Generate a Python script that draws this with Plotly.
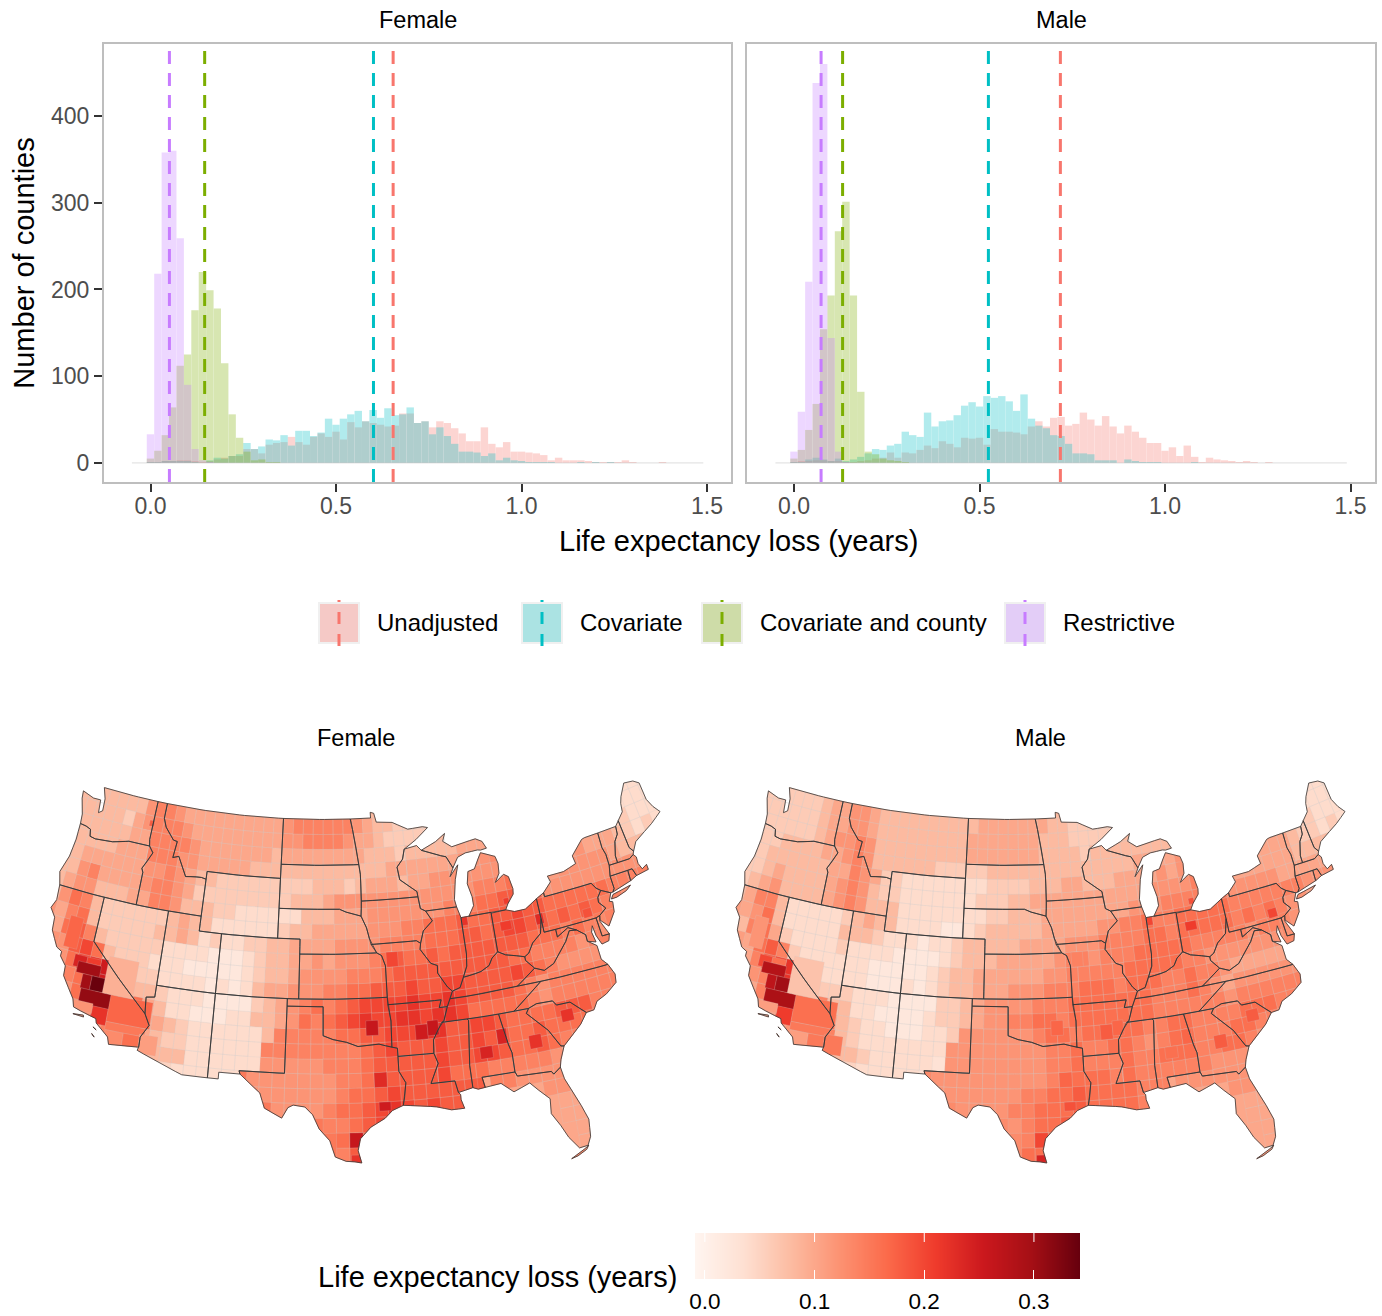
import math
import plotly.graph_objects as go

# ---------- histogram data (counts per 0.02-wide bin, first bin centred on 0) ----------
BIN_WIDTH = 0.02
UNADJ_F = [1,1,2,2,3,3,2,1,2,4,6,8,8,16,16,11,21,23,24,30,24,21,30,34,30,36,27,47,41,48,46,44,42,43,57,57,46,48,41,48,46,40,34,25,25,41,22,18,24,13,13,12,11,9,3,6,3,3,3,2,1,1,1,1,3,1,0,0,0,1]
COV_F = [1,1,2,2,2,2,1,0,3,6,5,8,10,23,16,19,27,26,32,20,37,37,31,35,51,44,51,56,60,48,61,52,63,55,56,64,46,48,33,41,31,22,13,13,12,8,11,3,6,3,2,1,1,1,1,0,0,0,1,0,1,0,1]
CC_F = [5,14,32,64,112,125,176,220,199,178,115,56,29,13,3,4,1,1]
RESTR_F = [33,218,358,360,259,90,16,3,1]
UNADJ_M = [1,2,2,3,3,2,2,1,1,2,3,5,6,12,6,12,11,15,20,17,25,22,18,29,28,29,21,39,36,36,35,33,42,48,42,52,53,43,45,58,50,43,54,42,34,43,36,29,23,23,14,18,8,20,7,1,6,4,3,2,1,2,1,0,1]
COV_M = [1,1,4,6,4,2,5,2,4,7,11,16,15,20,22,36,32,30,58,42,48,49,55,66,70,65,77,75,77,71,60,79,51,43,40,32,31,22,11,11,10,3,3,3,0,4,2,1,1,1,0,0,0,0,1]
CC_M = [5,15,38,68,154,193,267,301,193,82,13,10,5,3,2,1]
RESTR_M = [13,59,209,438,460,144,13,1]
SERIES = ["Unadjusted", "Covariate", "Covariate and county", "Restrictive"]
COLORS = ["#F8766D", "#00BFC4", "#7CAE00", "#C77CFF"]
KEY_FILLS = ["#F5C9C6", "#ABE3E3", "#CEDCA8", "#E3CDF7"]
MEANS_F = [0.654, 0.601, 0.146, 0.051]
MEANS_M = [0.718, 0.524, 0.131, 0.073]

# ---------- map data ----------
REDS = ["#FFF5F0", "#FEE0D2", "#FCBBA1", "#FC9272", "#FB6A4A", "#EF3B2C", "#CB181D", "#A50F15", "#67000D"]
CMIN, CMAX = -0.009, 0.342
LEVELS = {"0":.02,"1":.04,"2":.06,"3":.08,"4":.10,"5":.12,"6":.14,"7":.16,"8":.18,"9":.20,"A":.22,"B":.25}

# 1-degree cells: key is the lower latitude; 12 groups of 5 columns from 125W eastwards
GRID_F = {
48:"33333 33566 54444 44444 45666 66654 33222 2.... ..... ..... ..... .....",
47:"33333 24566 65444 44444 45566 66544 32222 23333 ..... ..... ..... 1111.",
46:"33333 34466 66544 44444 34444 44443 33233 33344 4.... ..... ..... 1111.",
45:"33333 44466 65544 44433 33333 33333 34444 44455 5.... ..... 43322 1111.",
44:"33444 44455 65433 22222 22223 33234 44344 55555 55566 ....5 44432 12...",
43:"33564 44456 65422 22222 22333 45555 55555 55556 6677. ..555 55433 32...",
42:"34553 33446 65333 22111 11133 34445 55555 56667 78888 55555 55555 5....",
41:"35763 22222 23433 11111 12334 44445 55667 77877 88988 77777 76666 .....",
40:".4673 22222 33431 21122 33444 45555 66667 77887 89988 78787 665.. .....",
39:".4786 32222 21111 00012 33445 45556 78778 78888 88877 7676. 66... .....",
38:"..589 73222 11100 00012 33455 55666 78888 88888 87766 6656. 6.... .....",
37:"..579 AB532 21111 01013 44555 66778 88988 99888 89876 55556 6.... .....",
36:"...67 9BB33 32111 00002 34567 67899 99A99 A9888 87656 66666 6.... .....",
35:"...57 B6667 43110 00113 34576 789A9 9AA9A A9777 77656 66666 ..... .....",
34:"...56 59777 44321 11111 36666 67788 999AA 88998 77778 8866. ..... .....",
33:"..... ..676 43221 11111 66666 66678 98889 88988 77877 77... ..... .....",
32:"..... ...66 33331 1111. 55555 66678 88889 88998 77876 6.... ..... .....",
31:"..... ..... ...11 111.5 55555 56677 88889 77766 66655 ..... ..... .....",
30:"..... ..... ..... ....5 55555 56778 98888 88.66 55554 ..... ..... .....",
29:"..... ..... ..... ..... .5555 67789 A9898 8.... ..554 ..... ..... .....",
28:"..... ..... ..... ..... ..... 66789 A.... ..... ...44 4.... ..... .....",
27:"..... ..... ..... ..... ..... .7779 ..... ..... ...44 4.... ..... .....",
26:"..... ..... ..... ..... ..... .689. ..... ..... ....4 4.... ..... .....",
25:"..... ..... ..... ..... ..... ...9. ..... ..... ....4 4.... ..... .....",
}
GRID_M = {
48:"22222 23445 54333 33333 33444 44443 32222 2.... ..... ..... ..... .....",
47:"22222 23445 54333 33333 34444 44433 32222 23333 ..... ..... ..... 1111.",
46:"22222 23455 65333 33333 34444 44433 33233 33333 3.... ..... ..... 1111.",
45:"22233 33445 65333 33322 22233 33333 33333 33444 4.... ..... 33222 1111.",
44:"22333 33344 65422 11111 11122 22333 44333 44445 45555 ....4 44322 12...",
43:"22343 33345 65322 11111 11222 33444 44444 44455 5566. ..444 44333 32...",
42:"23453 33345 65333 11111 11122 33344 44444 45556 66667 55555 44444 4....",
41:"34663 11111 23433 11110 01233 33344 44455 66766 77777 66666 66555 .....",
40:".4573 11111 33321 11011 23333 34444 55566 66776 77777 67676 554.. .....",
39:".3674 21111 21111 00001 23334 44445 66566 67777 76666 6566. 55... .....",
38:"..478 62111 11100 00012 33444 44455 66666 77777 66555 5555. 5.... .....",
37:"..468 9A421 11100 01012 33444 55566 67776 77766 76654 44445 5.... .....",
36:"...56 8AA22 22111 00002 23455 55666 77777 77666 76545 55555 5.... .....",
35:"...46 A5556 33110 00012 23455 66776 77777 77666 66656 66666 ..... .....",
34:"...45 48666 43211 00011 25555 55677 67777 76677 66667 7766. ..... .....",
33:"..... ..565 63211 11111 55555 55566 76677 65677 66677 66... ..... .....",
32:"..... ...65 63321 1111. 55555 55566 76667 66777 66776 5.... ..... .....",
31:"..... ..... ...11 111.5 55555 55566 77767 66666 65555 ..... ..... .....",
30:"..... ..... ..... ....5 55555 56677 87777 66.55 55554 ..... ..... .....",
29:"..... ..... ..... ..... .5555 66777 87777 6.... ..554 ..... ..... .....",
28:"..... ..... ..... ..... ..... 56778 9.... ..... ...44 4.... ..... .....",
27:"..... ..... ..... ..... ..... .6778 ..... ..... ...44 4.... ..... .....",
26:"..... ..... ..... ..... ..... .779. ..... ..... ....4 4.... ..... .....",
25:"..... ..... ..... ..... ..... ...9. ..... ..... ....4 4.... ..... .....",
}
# local patches: lon0, lon1, lat0, lat1, female, male
PATCHES = [
(-122.5,-121.3,38.2,40.3,.17,.12),(-121.3,-120.2,37.1,37.9,.24,.20),(-120.2,-119.0,37.5,37.9,.21,.16),
(-120.9,-118.9,36.75,37.5,.30,.28),(-120.3,-119.5,35.8,36.75,.30,.27),(-119.5,-118.0,35.8,36.75,.34,.30),
(-120.2,-117.6,34.8,35.8,.31,.29),(-118.95,-117.65,33.7,34.82,.22,.21),(-120.7,-118.95,34.3,34.95,.12,.11),
(-117.65,-114.1,34.0,35.8,.17,.16),(-117.65,-114.4,33.45,34.0,.15,.15),(-117.6,-116.1,32.5,33.45,.13,.11),
(-116.1,-114.4,32.6,33.45,.16,.15),(-118.4,-115.8,35.8,38.3,.09,.07),(-114.8,-113.3,32.3,33.6,.11,.15),
(-98.0,-97.0,27.0,28.0,.26,.20),(-95.7,-94.8,29.4,30.0,.25,.19),(-97.9,-97.2,25.9,26.5,.22,.24),
(-117.4,-116.9,47.3,47.7,.18,.10),(-83.5,-83.0,42.1,42.5,.21,.19),(-87.55,-87.0,41.2,41.75,.22,.20),
(-92.5,-91.5,34.0,35.0,.25,.18),(-91.5,-90.6,34.2,35.2,.26,.17),(-96.5,-95.5,34.5,35.5,.26,.17),
(-87.5,-86.5,32.2,33.0,.24,.16),(-86.0,-85.2,33.0,34.0,.24,.17),(-81.0,-80.3,40.3,41.0,.23,.16),
(-83.5,-82.5,32.3,33.2,.22,.18),(-80.6,-79.6,33.6,34.4,.22,.18),(-96.0,-95.0,31.0,32.0,.23,.17),
(-84.2,-83.2,40.4,41.0,.21,.21),(-76.8,-76.0,39.9,40.5,.19,.20),(-94.5,-93.5,39.0,40.0,.20,.14),
]
STATES = {
"WA":[(-124.7,48.38),(-123.5,48.13),(-122.75,48.15),(-122.6,47.3),(-122.25,47.5),(-122.35,48.3),(-122.75,49),(-117.03,49),(-117.04,46.42),(-116.92,46),(-118.98,46),(-119.3,45.93),(-120.5,45.7),(-121.2,45.65),(-122.2,45.58),(-122.75,45.65),(-122.9,46.1),(-123.4,46.22),(-124,46.27),(-124.1,46.9),(-124.6,47.9)],
"OR":[(-124,46.27),(-123.4,46.22),(-122.9,46.1),(-122.75,45.65),(-122.2,45.58),(-121.2,45.65),(-120.5,45.7),(-119.3,45.93),(-118.98,46),(-116.92,46),(-116.47,45.6),(-116.85,44.95),(-117.2,44.45),(-117.03,44.2),(-117.03,42),(-124.21,42),(-124.55,42.84),(-124.1,44),(-123.95,45.2)],
"CA":[(-124.21,42),(-120,42),(-120,39),(-114.63,35),(-114.15,34.27),(-114.72,33.4),(-114.72,32.72),(-117.12,32.53),(-117.3,33),(-118.4,33.75),(-118.5,34.03),(-119.2,34.15),(-120.47,34.45),(-120.65,34.95),(-121.85,36.3),(-121.9,36.95),(-122.5,37.5),(-122.5,37.8),(-123,38),(-123.75,39),(-123.85,39.85),(-124.4,40.4),(-124.1,41)],
"NV":[(-120,42),(-114.04,42),(-114.04,36.2),(-114.75,36.1),(-114.63,35),(-120,39)],
"ID":[(-117.03,49),(-116.05,49),(-116.05,48),(-115.7,47.45),(-114.75,46.7),(-114.35,46.65),(-114.5,45.55),(-113.95,45.7),(-113.45,45.05),(-113,44.45),(-112,44.55),(-111.5,44.55),(-111.05,44.48),(-111.05,42),(-117.03,42),(-117.03,44.2),(-117.2,44.45),(-116.85,44.95),(-116.47,45.6),(-116.92,46),(-117.04,46.42)],
"MT":[(-116.05,49),(-104.05,49),(-104.05,45),(-111.05,45),(-111.05,44.48),(-111.5,44.55),(-112,44.55),(-113,44.45),(-113.45,45.05),(-113.95,45.7),(-114.5,45.55),(-114.35,46.65),(-114.75,46.7),(-115.7,47.45),(-116.05,48)],
"WY":[(-111.05,45),(-104.05,45),(-104.05,41),(-111.05,41)],
"UT":[(-114.04,42),(-111.05,42),(-111.05,41),(-109.05,41),(-109.05,37),(-114.04,37)],
"CO":[(-109.05,41),(-102.05,41),(-102.05,37),(-109.05,37)],
"AZ":[(-114.04,37),(-109.05,37),(-109.05,31.33),(-111.07,31.33),(-114.8,32.5),(-114.72,32.72),(-114.72,33.4),(-114.15,34.27),(-114.63,35),(-114.75,36.1),(-114.04,36.2)],
"NM":[(-109.05,37),(-103,37),(-103.04,32),(-106.62,32),(-106.53,31.78),(-108.2,31.78),(-108.2,31.33),(-109.05,31.33)],
"ND":[(-104.05,49),(-97.23,49),(-96.85,47.6),(-96.56,45.94),(-104.05,45.94)],
"SD":[(-104.05,45.94),(-96.56,45.94),(-96.45,45.3),(-96.45,43.5),(-96.55,42.5),(-97.9,42.8),(-98.5,43),(-104.05,43)],
"NE":[(-104.05,43),(-98.5,43),(-97.9,42.8),(-96.55,42.5),(-96.1,41.7),(-95.9,41),(-95.31,40),(-102.05,40),(-102.05,41),(-104.05,41)],
"KS":[(-102.05,40),(-95.31,40),(-94.9,39.8),(-94.61,39.1),(-94.62,37),(-102.05,37)],
"OK":[(-103,37),(-94.62,37),(-94.43,35.4),(-94.48,33.64),(-95.5,33.9),(-96.6,33.85),(-97.2,33.8),(-98.1,34.1),(-99.2,34.3),(-100,34.56),(-100,36.5),(-103,36.5)],
"TX":[(-103,36.5),(-100,36.5),(-100,34.56),(-99.2,34.3),(-98.1,34.1),(-97.2,33.8),(-96.6,33.85),(-95.5,33.9),(-94.48,33.64),(-94.04,33.55),(-94.04,33),(-94.04,32),(-93.55,31.2),(-93.7,30.3),(-93.85,29.7),(-94.7,29.4),(-95.3,28.9),(-96.4,28.35),(-97.2,27.6),(-97.4,26.8),(-97.15,25.96),(-97.65,26.05),(-98.3,26.1),(-99.1,26.4),(-99.5,27.5),(-100.3,28.3),(-100.8,29.25),(-101.4,29.77),(-102.3,29.88),(-102.7,29.7),(-103.15,28.98),(-104.5,29.6),(-104.9,30.6),(-106.53,31.78),(-106.62,32),(-103.04,32)],
"MN":[(-97.23,49),(-95.15,49),(-95.15,49.38),(-94.8,49.3),(-94.6,48.7),(-93,48.6),(-91.5,48.05),(-90,48.1),(-89.5,48),(-90.8,47.3),(-92.05,46.75),(-92.3,46.1),(-92.9,45.6),(-92.75,44.75),(-91.25,43.85),(-91.22,43.5),(-96.45,43.5),(-96.45,45.3),(-96.56,45.94),(-96.85,47.6)],
"IA":[(-96.45,43.5),(-91.22,43.5),(-91.1,42.7),(-90.65,42.5),(-90.15,41.8),(-91.05,41.2),(-91.4,40.4),(-91.75,40.6),(-95.77,40.58),(-95.9,41),(-96.1,41.7),(-96.55,42.5)],
"MO":[(-95.77,40.58),(-91.75,40.6),(-91.4,40.4),(-91.5,40),(-90.7,39),(-90.15,38.8),(-90.2,38.3),(-89.5,37.3),(-89.13,36.98),(-89.4,36.5),(-89.7,36),(-90.37,36),(-90.15,36.5),(-94.62,36.5),(-94.62,39.1),(-94.9,39.8),(-95.31,40)],
"AR":[(-94.62,36.5),(-90.15,36.5),(-90.37,36),(-89.7,36),(-90.1,35.1),(-90.6,34.6),(-91.1,33.9),(-91.17,33),(-94.04,33),(-94.04,33.55),(-94.48,33.64),(-94.43,35.4)],
"LA":[(-94.04,33),(-91.17,33),(-90.9,32.3),(-91.6,31),(-89.73,31),(-89.55,30.2),(-89.4,30.05),(-89.4,29.7),(-89.2,29.1),(-90.2,29.1),(-91.3,29.4),(-92.3,29.55),(-93.85,29.7),(-93.7,30.3),(-93.55,31.2),(-94.04,32)],
"WI":[(-92.05,46.75),(-90.8,46.9),(-90.4,46.55),(-89.1,46.15),(-88.1,45.9),(-87.6,45.1),(-88,44.55),(-87.1,45.25),(-87.55,44.3),(-87.9,43),(-87.8,42.5),(-90.65,42.5),(-91.1,42.7),(-91.22,43.5),(-91.25,43.85),(-92.75,44.75),(-92.9,45.6),(-92.3,46.1)],
"IL":[(-90.65,42.5),(-87.8,42.5),(-87.55,41.75),(-87.53,39.3),(-87.65,38.5),(-88.05,37.8),(-88.45,37.15),(-89.13,36.98),(-89.5,37.3),(-90.2,38.3),(-90.15,38.8),(-90.7,39),(-91.5,40),(-91.4,40.4),(-91.05,41.2),(-90.15,41.8)],
"IN":[(-87.55,41.75),(-87.2,41.76),(-86.82,41.76),(-84.8,41.76),(-84.82,39.1),(-85.4,38.75),(-85.75,38.3),(-86.5,38),(-87.05,37.9),(-88.05,37.8),(-87.65,38.5),(-87.53,39.3)],
"OH":[(-84.8,41.7),(-83.45,41.73),(-82.7,41.5),(-81.7,41.5),(-80.52,42),(-80.52,40.64),(-80.85,39.7),(-81.7,39.2),(-82.2,38.6),(-82.6,38.42),(-83.3,38.6),(-84.2,38.8),(-84.82,39.1)],
"MI":[(-86.82,41.76),(-84.8,41.76),(-83.45,41.73),(-83.15,42.1),(-82.5,42.65),(-82.42,43),(-82.6,43.85),(-83,44.07),(-83.9,43.65),(-83.4,44.2),(-83.3,44.85),(-83.45,45.35),(-84.75,45.78),(-85.1,45.4),(-85.6,44.8),(-86.25,44.7),(-86.5,43.9),(-86.25,43),(-86.25,42.4)],
"MI2":[(-90.4,46.55),(-89.1,46.15),(-88.1,45.9),(-87.6,45.1),(-87,45.75),(-86.2,45.95),(-85,46),(-84.7,45.95),(-84.1,46),(-84.4,46.5),(-85,46.75),(-86.2,46.65),(-87.4,46.5),(-88.2,46.95),(-87.9,47.45),(-88.9,47)],
"KY":[(-89.4,36.5),(-88.05,36.5),(-83.68,36.6),(-81.97,37.54),(-82.6,38.17),(-82.6,38.42),(-83.3,38.6),(-84.2,38.8),(-84.82,39.1),(-85.4,38.75),(-85.75,38.3),(-86.5,38),(-87.05,37.9),(-88.05,37.8),(-88.45,37.15),(-89.13,36.98)],
"TN":[(-90.3,35),(-84.32,35),(-81.68,36.59),(-83.68,36.6),(-88.05,36.5),(-89.4,36.5),(-89.7,36),(-90.1,35.1)],
"MS":[(-90.3,35),(-88.2,35),(-88.1,34.9),(-88.45,31.9),(-88.4,30.4),(-89.55,30.2),(-89.73,31),(-91.6,31),(-90.9,32.3),(-91.17,33),(-91.1,33.9),(-90.6,34.6)],
"AL":[(-88.2,35),(-85.6,35),(-85.18,32.87),(-85,32.3),(-85,31),(-87.6,31),(-87.45,30.3),(-88,30.25),(-88.4,30.4),(-88.45,31.9),(-88.1,34.9)],
"GA":[(-85.6,35),(-83.1,35),(-83.35,34.7),(-81.85,33.3),(-81.1,32.1),(-80.85,32.05),(-81.3,31.2),(-81.45,30.72),(-82.05,30.36),(-82.2,30.57),(-84.86,30.7),(-85,31),(-85,32.3),(-85.18,32.87)],
"FL":[(-87.6,31),(-85,31),(-84.86,30.7),(-82.2,30.57),(-82.05,30.36),(-81.45,30.72),(-81.3,29.9),(-80.6,28.4),(-80.05,26.9),(-80.15,25.75),(-80.45,25.2),(-81.1,25.15),(-81.75,26),(-82.2,26.9),(-82.75,27.8),(-82.65,28.8),(-83.4,29.5),(-84,30.1),(-85.3,29.7),(-86.2,30.4),(-87.45,30.3)],
"SC":[(-83.35,34.7),(-83.1,35),(-82.4,35.2),(-81.05,35.15),(-80.8,34.82),(-79.67,34.8),(-78.55,33.86),(-79.2,33.2),(-79.9,32.7),(-80.85,32.05),(-81.1,32.1),(-81.85,33.3)],
"NC":[(-84.32,35),(-83.1,35),(-82.4,35.2),(-81.05,35.15),(-80.8,34.82),(-79.67,34.8),(-78.55,33.86),(-77.9,33.9),(-77.5,34.4),(-76.6,34.7),(-75.6,35.25),(-75.5,35.8),(-75.87,36.55),(-81.68,36.59)],
"VA":[(-83.68,36.6),(-81.68,36.59),(-75.87,36.55),(-76.3,37),(-76.35,37.95),(-77.05,38.4),(-77.05,38.85),(-77.72,39.32),(-78.35,39.4),(-78.87,38.77),(-79.3,38.4),(-80.3,37.55),(-81.2,37.25),(-81.97,37.54)],
"WV":[(-81.97,37.54),(-81.2,37.25),(-80.3,37.55),(-79.3,38.4),(-78.87,38.77),(-78.35,39.4),(-77.72,39.32),(-78.4,39.62),(-79.48,39.2),(-79.48,39.72),(-80.52,39.72),(-80.52,40.64),(-80.85,39.7),(-81.7,39.2),(-82.2,38.6),(-82.6,38.42),(-82.6,38.17)],
"PA":[(-80.52,42),(-79.76,42.27),(-79.76,42),(-75.35,42),(-75.05,41.6),(-74.7,41.36),(-75.13,40.98),(-75.2,40.65),(-74.72,40.15),(-75.42,39.8),(-75.79,39.72),(-80.52,39.72)],
"MD":[(-79.48,39.72),(-75.79,39.72),(-75.7,38.46),(-75.05,38.45),(-75.25,38.03),(-75.9,37.95),(-76.2,38.6),(-76.3,39.3),(-76.5,38.9),(-76.35,38.2),(-77.05,38.4),(-77.05,38.85),(-77.72,39.32),(-78.4,39.62),(-79.48,39.2)],
"DE":[(-75.79,39.72),(-75.42,39.8),(-75.55,39.45),(-75.05,38.45),(-75.7,38.46)],
"NJ":[(-74.7,41.36),(-73.9,41),(-74.25,40.5),(-73.97,40.4),(-74.1,39.75),(-74.9,38.95),(-75.5,39.5),(-75.42,39.8),(-74.72,40.15),(-75.2,40.65),(-75.13,40.98)],
"NY":[(-79.76,42.27),(-78.9,42.85),(-79.05,43.27),(-77.5,43.27),(-76.2,43.55),(-76.3,44.1),(-75,44.95),(-74.7,45),(-73.34,45.01),(-73.4,44),(-73.25,43.5),(-73.27,42.75),(-73.5,42.05),(-73.49,41.2),(-73.7,41),(-73.9,41),(-74.7,41.36),(-75.05,41.6),(-75.35,42),(-79.76,42)],
"NY2":[(-74,40.6),(-73.75,40.85),(-72.6,40.98),(-72,41.05),(-72.5,40.8),(-73.5,40.6)],
"VT":[(-73.34,45.01),(-71.5,45.01),(-71.6,44.5),(-72.05,44.1),(-72.45,43.2),(-72.46,42.73),(-73.27,42.75),(-73.25,43.5),(-73.4,44)],
"NH":[(-71.5,45.01),(-71.08,45.3),(-70.98,43.4),(-70.7,43.07),(-70.85,42.87),(-71.3,42.7),(-72.46,42.73),(-72.45,43.2),(-72.05,44.1),(-71.6,44.5)],
"ME":[(-71.08,45.3),(-70.4,45.75),(-70.25,46.3),(-69.99,46.7),(-69.22,47.46),(-68.3,47.35),(-67.79,47.07),(-67.78,45.9),(-67.45,45.3),(-67,44.8),(-68.2,44.3),(-69.1,44),(-70.2,43.6),(-70.7,43.07),(-70.98,43.4)],
"MA":[(-73.5,42.05),(-71.8,42.02),(-71.38,42.02),(-71.2,41.5),(-70.65,41.55),(-70,41.6),(-70,41.95),(-70.5,41.78),(-70.7,42.2),(-70.65,42.65),(-70.85,42.87),(-71.3,42.7),(-72.46,42.73),(-73.27,42.75)],
"CT":[(-73.5,42.05),(-71.8,42.02),(-71.85,41.32),(-73.7,41),(-73.49,41.2)],
"RI":[(-71.8,42.02),(-71.38,42.02),(-71.2,41.5),(-71.85,41.32)],
"CA2":[(-120.4,34),(-119.5,33.95),(-119.55,34.07),(-120.3,34.05)],
"CA3":[(-118.6,33.45),(-118.3,33.3),(-118.35,33.38)],
"CA4":[(-118.6,33),(-118.35,32.8),(-118.4,32.85)],
"FL2":[(-81.8,24.55),(-81.3,24.65),(-80.6,24.95),(-80.4,25.2),(-80.65,25.05),(-81.35,24.72)],
}
STATE_F = {"WA":.08,"OR":.09,"CA":.12,"NV":.06,"ID":.11,"MT":.095,"WY":.05,"UT":.05,"CO":.05,"AZ":.05,"NM":.04,"ND":.11,"SD":.07,"NE":.09,"KS":.12,"OK":.17,"TX":.15,"MN":.08,"IA":.11,"MO":.16,"AR":.19,"LA":.17,"WI":.10,"IL":.15,"IN":.16,"OH":.17,"MI":.13,"MI2":.09,"KY":.16,"TN":.16,"MS":.18,"AL":.18,"GA":.16,"FL":.10,"FL2":.13,"SC":.16,"NC":.14,"VA":.12,"WV":.14,"PA":.15,"MD":.14,"DE":.12,"NJ":.13,"NY":.11,"NY2":.16,"VT":.06,"NH":.07,"ME":.04,"MA":.10,"CT":.11,"RI":.10,"CA2":.12,"CA3":.12,"CA4":.12}
STATE_M = {"WA":.07,"OR":.08,"CA":.11,"NV":.05,"ID":.10,"MT":.08,"WY":.04,"UT":.05,"CO":.05,"AZ":.05,"NM":.03,"ND":.09,"SD":.07,"NE":.08,"KS":.10,"OK":.13,"TX":.13,"MN":.08,"IA":.10,"MO":.13,"AR":.14,"LA":.14,"WI":.09,"IL":.14,"IN":.15,"OH":.15,"MI":.12,"MI2":.08,"KY":.13,"TN":.14,"MS":.13,"AL":.14,"GA":.13,"FL":.10,"FL2":.12,"SC":.13,"NC":.12,"VA":.10,"WV":.10,"PA":.14,"MD":.13,"DE":.12,"NJ":.13,"NY":.10,"NY2":.16,"VT":.05,"NH":.06,"ME":.04,"MA":.09,"CT":.10,"RI":.09,"CA2":.11,"CA3":.11,"CA4":.11}

# ---------- helpers ----------
LAT0, LON0 = math.radians(45), math.radians(-100)

def project(lon, lat):
    # Lambert azimuthal equal-area projection
    p, l = math.radians(lat), math.radians(lon) - LON0
    k = math.sqrt(2 / (1 + math.sin(LAT0) * math.sin(p) + math.cos(LAT0) * math.cos(p) * math.cos(l)))
    return 6.371 * k * math.cos(p) * math.sin(l), 6.371 * k * (math.cos(LAT0) * math.sin(p) - math.sin(LAT0) * math.cos(p) * math.cos(l))

def densify(poly, step=0.5):
    out = []
    for i, (a, b) in enumerate(poly):
        c, d = poly[(i + 1) % len(poly)]
        n = max(1, int(max(abs(c - a), abs(d - b)) / step))
        out += [(a + (c - a) * j / n, b + (d - b) * j / n) for j in range(n)]
    return out

def clip(poly, x0, x1, y0, y1):
    tests = [(lambda p: p[0] >= x0, lambda p, q: (x0, p[1] + (q[1] - p[1]) * (x0 - p[0]) / (q[0] - p[0]))),
             (lambda p: p[0] <= x1, lambda p, q: (x1, p[1] + (q[1] - p[1]) * (x1 - p[0]) / (q[0] - p[0]))),
             (lambda p: p[1] >= y0, lambda p, q: (p[0] + (q[0] - p[0]) * (y0 - p[1]) / (q[1] - p[1]), y0)),
             (lambda p: p[1] <= y1, lambda p, q: (p[0] + (q[0] - p[0]) * (y1 - p[1]) / (q[1] - p[1]), y1))]
    for inside, cross in tests:
        res = []
        for i, q in enumerate(poly):
            p = poly[i - 1]
            if inside(q):
                if not inside(p):
                    res.append(cross(p, q))
                res.append(q)
            elif inside(p):
                res.append(cross(p, q))
        poly = res
        if not poly:
            return []
    return poly

def red(v):
    t = min(max((v - CMIN) / (CMAX - CMIN), 0), 1) * (len(REDS) - 1)
    i = min(int(t), len(REDS) - 2)
    a, b = REDS[i], REDS[i + 1]
    rgb = [round(int(a[k:k + 2], 16) + (int(b[k:k + 2], 16) - int(a[k:k + 2], 16)) * (t - i)) for k in (1, 3, 5)]
    return "rgb(%d,%d,%d)" % tuple(rgb)

def path(polys):
    xs, ys = [], []
    for poly in polys:
        pts = [project(*p) for p in densify(poly)]
        pts.append(pts[0])
        xs += [p[0] for p in pts] + [None]
        ys += [p[1] for p in pts] + [None]
    return xs, ys

# page geometry (pixels)
W, H = 1382, 1316
fx = lambda p: p / W
fy = lambda p: 1 - p / H
PANELS = [(104, 731), (747, 1375)]
PANEL_TOP, PANEL_BOTTOM = 44, 482
X_ZERO = [150.5, 794.0]
X_SCALE = 371.0
Y_RANGE = [-22, 483]

fig = go.Figure()

# ---------- histograms ----------
hist = [([UNADJ_F, COV_F, CC_F, RESTR_F], MEANS_F, "x", "y"), ([UNADJ_M, COV_M, CC_M, RESTR_M], MEANS_M, "x2", "y2")]
for idx, (values, means, xa, ya) in enumerate(hist):
    fig.add_trace(go.Scatter(x=[-0.05, 1.49], y=[0, 0], mode="lines", line=dict(color="rgba(190,190,190,0.5)", width=1),
                             xaxis=xa, yaxis=ya, showlegend=False, hoverinfo="skip"))
    for name, vals, col in zip(SERIES, values, COLORS):
        fig.add_trace(go.Bar(x=[round(BIN_WIDTH * k, 2) for k in range(len(vals))], y=vals, width=BIN_WIDTH, name=name,
                             marker=dict(color=col, line=dict(width=0)), opacity=0.3, xaxis=xa, yaxis=ya, showlegend=False))
    for m, col in zip(means, COLORS):
        fig.add_shape(type="line", x0=m, x1=m, y0=Y_RANGE[0], y1=Y_RANGE[1], xref=xa, yref=ya, layer="above",
                      line=dict(color=col, width=3, dash="13px,9px"))

# ---------- maps ----------
MAP_TOP, MAP_BOTTOM = 781, 1163
MAP_LEFT, MAP_RIGHT = 51, 660
MAP_SHIFT = 685
all_pts = [project(*p) for poly in STATES.values() for p in densify(poly)]
xmin, xmax = min(p[0] for p in all_pts), max(p[0] for p in all_pts)
ymin, ymax = min(p[1] for p in all_pts), max(p[1] for p in all_pts)
sx = (MAP_RIGHT - MAP_LEFT) / (xmax - xmin)
sy = (MAP_BOTTOM - MAP_TOP) / (ymax - ymin)
D = (30, 680, 770, 1175)
xr = [xmin + (D[0] - MAP_LEFT) / sx, xmin + (D[1] - MAP_LEFT) / sx]
yr = [ymin - (D[3] - MAP_BOTTOM) / sy, ymin - (D[2] - MAP_BOTTOM) / sy]

COUNTY_LINE = "rgba(205,205,205,0.4)"
def add_map(grid, state_vals, patch_col, xa, ya):
    groups = {}
    for st, poly in STATES.items():
        groups.setdefault(state_vals[st], []).append(poly)
    for v, polys in groups.items():
        xs, ys = path(polys)
        fig.add_trace(go.Scatter(x=xs, y=ys, mode="lines", fill="toself", fillcolor=red(v), line=dict(color=red(v), width=0.5),
                                 xaxis=xa, yaxis=ya, showlegend=False, hoverinfo="skip"))
    groups = {}
    for lat, row in grid.items():
        for c, ch in enumerate(row.replace(" ", "")):
            if ch == ".":
                continue
            lon = -125 + c
            for poly in STATES.values():
                piece = clip(poly, lon, lon + 1, lat, lat + 1)
                if len(piece) > 2:
                    groups.setdefault(ch, []).append(piece)
    for ch, polys in groups.items():
        xs, ys = path(polys)
        fig.add_trace(go.Scatter(x=xs, y=ys, mode="lines", fill="toself", fillcolor=red(LEVELS[ch]), line=dict(color=COUNTY_LINE, width=0.5),
                                 xaxis=xa, yaxis=ya, showlegend=False, hoverinfo="skip"))
    for patch in PATCHES:
        polys = []
        for poly in STATES.values():
            piece = clip(poly, *patch[:4])
            if len(piece) > 2:
                polys.append(piece)
        if polys:
            v = patch[patch_col]
            xs, ys = path(polys)
            fig.add_trace(go.Scatter(x=xs, y=ys, mode="lines", fill="toself", fillcolor=red(v), line=dict(color=COUNTY_LINE, width=0.5),
                                     xaxis=xa, yaxis=ya, showlegend=False, hoverinfo="skip"))
    xs, ys = path(list(STATES.values()))
    fig.add_trace(go.Scatter(x=xs, y=ys, mode="lines", line=dict(color="#333333", width=0.8),
                             xaxis=xa, yaxis=ya, showlegend=False, hoverinfo="skip"))

add_map(GRID_F, STATE_F, 4, "x3", "y3")
add_map(GRID_M, STATE_M, 5, "x4", "y4")

# colour scale drawn as a gradient strip on its own value axis
scale = [[i / (len(REDS) - 1), c] for i, c in enumerate(REDS)]
BAR_L, BAR_R, BAR_T, BAR_B = 695, 1080, 1233, 1279
CB_TICKS = [0.0, 0.1, 0.2, 0.3]
STRIP = [CMIN + (CMAX - CMIN) * i / 384 for i in range(385)]
fig.add_trace(go.Heatmap(x=STRIP, y=[0], z=[STRIP], zmin=CMIN, zmax=CMAX, colorscale=scale, showscale=False,
                         xaxis="x5", yaxis="y5", hoverinfo="skip"))

# ---------- layout ----------
def panel_axis(i):
    l, r = PANELS[i]
    return dict(domain=[fx(l), fx(r)], range=[(l - X_ZERO[i]) / X_SCALE, (r - X_ZERO[i]) / X_SCALE], automargin=False,
                tickvals=[0, 0.5, 1.0, 1.5], ticktext=["0.0", "0.5", "1.0", "1.5"], ticks="outside", ticklen=8, tickwidth=2, tickcolor="#333333",
                ticklabelstandoff=-6,
                tickfont=dict(size=23, color="#4D4D4D"), showgrid=False, zeroline=False, showline=True, mirror=True, linecolor="#BEBEBE", linewidth=2)

yax = dict(domain=[fy(PANEL_BOTTOM), fy(PANEL_TOP)], range=Y_RANGE, showgrid=False, zeroline=False, showline=True, mirror=True,
           linecolor="#BEBEBE", linewidth=2, automargin=False)
blank = dict(visible=False, showgrid=False, zeroline=False, automargin=False)
annos = [
    dict(text="Female", x=fx(417.5), y=fy(20)), dict(text="Male", x=fx(1061), y=fy(20)),
    dict(text="Female", x=fx(356), y=fy(738)), dict(text="Male", x=fx(1040.5), y=fy(738)),
    dict(text="Life expectancy loss (years)", x=fx(739), y=fy(541), size=29),
    dict(text="Life expectancy loss (years)", x=fx(497.5), y=fy(1277), size=29),
]
KEYS = [(319, 375), (522, 578), (702, 758), (1005, 1061)]
shapes = []
for (kx, tx), name, col, fill in zip(KEYS, SERIES, COLORS, KEY_FILLS):
    annos.append(dict(text=name, x=fx(tx), y=fy(623), anchor="left", size=24))
    shapes.append(dict(type="rect", xref="paper", yref="paper", x0=fx(kx), x1=fx(kx + 40), y0=fy(603), y1=fy(643), fillcolor=fill,
                       line=dict(color="#F0F0F0", width=2), layer="above"))
    shapes.append(dict(type="line", xref="paper", yref="paper", x0=fx(kx + 20), x1=fx(kx + 20), y0=fy(646), y1=fy(600),
                       line=dict(color=col, width=3, dash="12px,10px"), layer="above"))
for v in CB_TICKS:
    shapes.append(dict(type="line", xref="x5", yref="paper", x0=v, x1=v, y0=fy(BAR_T), y1=fy(BAR_T + 9),
                       line=dict(color="white", width=1), layer="above"))

fig.update_layout(
    width=W, height=H, autosize=False, margin=dict(l=0, r=0, t=0, b=0, pad=0, autoexpand=False), plot_bgcolor="white", paper_bgcolor="white",
    font=dict(family="Liberation Sans, Arial, sans-serif", color="black"), barmode="overlay", showlegend=False,
    xaxis=dict(panel_axis(0), anchor="y"),
    xaxis2=dict(panel_axis(1), anchor="y2"),
    yaxis=dict(yax, anchor="x", tickvals=[0, 100, 200, 300, 400], ticks="outside", ticklen=8, tickwidth=2, tickcolor="#333333",
               tickfont=dict(size=23, color="#4D4D4D"),
               title=dict(text="Number of counties", font=dict(size=29, color="black"), standoff=8)),
    yaxis2=dict(yax, anchor="x2", showticklabels=False, ticks=""),
    xaxis3=dict(blank, domain=[fx(D[0]), fx(D[1])], range=xr, anchor="y3"),
    yaxis3=dict(blank, domain=[fy(D[3]), fy(D[2])], range=yr, anchor="x3"),
    xaxis4=dict(blank, domain=[fx(D[0] + MAP_SHIFT), fx(D[1] + MAP_SHIFT)], range=xr, anchor="y4"),
    yaxis4=dict(blank, domain=[fy(D[3]), fy(D[2])], range=yr, anchor="x4"),
    xaxis5=dict(domain=[fx(BAR_L), fx(BAR_R)], range=[CMIN, CMAX], anchor="y5", showgrid=False, zeroline=False, showline=False, automargin=False,
                tickvals=CB_TICKS, ticktext=["0.0", "0.1", "0.2", "0.3"], ticks="inside", ticklen=9, tickwidth=1, tickcolor="white",
                ticklabelstandoff=6, tickfont=dict(size=22.5, color="black")),
    yaxis5=dict(blank, domain=[fy(BAR_B), fy(BAR_T)], anchor="x5"),
    shapes=list(fig.layout.shapes) + shapes,
    annotations=[dict(text=a["text"], x=a["x"], y=a["y"], xref="paper", yref="paper", showarrow=False, xanchor=a.get("anchor", "center"),
                      yanchor="middle", font=dict(size=a.get("size", 23.5), color="black")) for a in annos],
)
fig.write_html("out.html", config={"displayModeBar": False}, post_script="document.body.style.margin='0';")
